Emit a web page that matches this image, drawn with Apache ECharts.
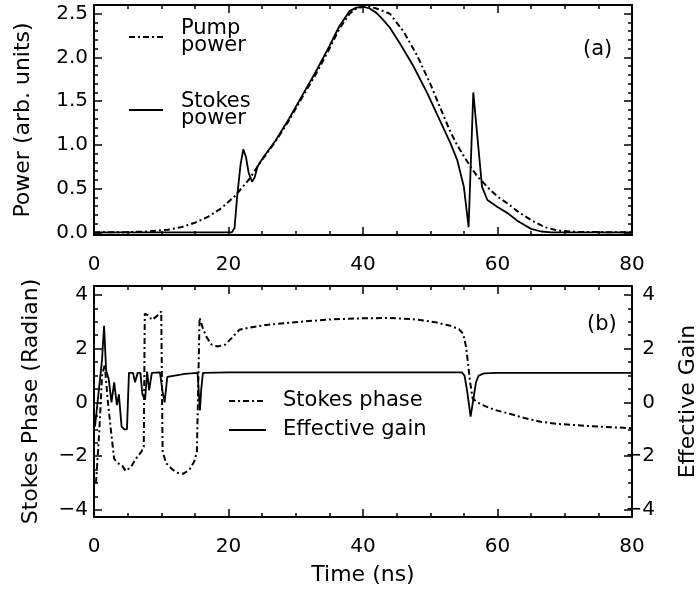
<!DOCTYPE html>
<html><head><meta charset="utf-8">
<script src="https://cdn.jsdelivr.net/npm/echarts@6/dist/echarts.min.js"></script>
<style>html,body{margin:0;padding:0;background:#fff}#c{width:699px;height:589px}</style>
</head><body><div id="c"></div>
<script>
// ---- tick labels ----
const timeTicks = [0, 20, 40, 60, 80];
const powerTicks = [0, 0.5, 1.0, 1.5, 2.0, 2.5];
const phaseTicks = [-4, -2, 0, 2, 4];
const gainTicks = [-4, -2, 0, 2, 4];

// ---- panel (a): pump power ----
const pumpT = [0, 5, 8, 11, 13, 15, 17, 19, 21, 23, 25, 27, 29, 31, 33, 35, 36.5, 38, 39, 40, 41, 42, 43, 44, 46, 48, 50, 52, 53, 54, 55, 56, 57, 58, 59, 60, 61.5, 63, 65, 67, 69, 72, 80];
const pumpP = [0, 0.003, 0.01, 0.03, 0.06, 0.11, 0.18, 0.28, 0.42, 0.6, 0.83, 1.04, 1.28, 1.55, 1.81, 2.1, 2.33, 2.5, 2.56, 2.58, 2.58, 2.56, 2.53, 2.5, 2.3, 2.03, 1.7, 1.33, 1.15, 1.0, 0.87, 0.75, 0.64, 0.56, 0.48, 0.41, 0.33, 0.24, 0.14, 0.06, 0.02, 0.005, 0];

// ---- panel (a): Stokes power ----
const stokesT = [0, 20.5, 20.9, 21.3, 21.8, 22.2, 22.6, 23.0, 23.5, 23.9, 24.3, 25, 27, 29, 31, 33, 35, 36.5, 38, 39, 40, 41, 42, 43, 44, 45.5, 47.5, 49.5, 51.5, 53, 54, 55, 55.7, 56.4, 57.7, 58.5, 60, 61.5, 63, 65, 66.5, 68, 80];
const stokesP = [0, 0, 0.05, 0.42, 0.78, 0.95, 0.86, 0.68, 0.58, 0.63, 0.75, 0.84, 1.05, 1.3, 1.57, 1.84, 2.13, 2.36, 2.53, 2.57, 2.58, 2.56, 2.51, 2.43, 2.34, 2.16, 1.9, 1.6, 1.27, 1.02, 0.83, 0.52, 0.06, 1.6, 0.52, 0.37, 0.29, 0.22, 0.13, 0.04, 0.01, 0, 0];

// ---- panel (b): Stokes phase ----
const phaseT = [0.3, 0.8, 1.2, 1.6, 2.0, 2.5, 3.0, 3.5, 4.2, 4.7, 5.5, 6.2, 7.0, 7.4, 7.55, 8.0, 8.6, 9.3, 10.0, 10.2, 10.7, 11.7, 12.5, 13.3, 14.2, 14.9, 15.3, 15.7, 16.2, 16.8, 17.5, 18.4, 19.5, 20.5, 21.6, 23, 25.6, 30.6, 35.5, 40, 44, 47, 49, 51, 53, 54.3, 54.9, 55.3, 55.6, 55.9, 56.3, 57, 58, 59.5, 61.5, 64, 66.4, 69, 71.4, 75, 79.4, 80];
const phaseV = [-3.0, -1.0, 1.0, 1.4, 0.2, -1.0, -2.1, -2.25, -2.35, -2.55, -2.4, -2.1, -1.85, -1.65, 3.3, 3.25, 3.07, 3.2, 3.38, -1.8, -2.25, -2.5, -2.62, -2.65, -2.5, -2.2, -1.85, 3.15, 2.75, 2.4, 2.15, 2.08, 2.15, 2.4, 2.7, 2.78, 2.88, 3.0, 3.09, 3.13, 3.14, 3.1, 3.05, 2.97, 2.85, 2.72, 2.55, 2.1, 1.5, 0.8, 0.15, 0.0, -0.12, -0.27, -0.4, -0.58, -0.72, -0.8, -0.84, -0.9, -0.95, -0.95];

// ---- panel (b): effective gain ----
const gainT = [0.15, 0.7, 1.2, 1.5, 1.8, 2.2, 2.6, 3.0, 3.4, 3.7, 4.1, 4.5, 4.9, 5.2, 5.8, 6.1, 6.5, 6.9, 7.2, 7.6, 7.9, 8.2, 8.6, 9.8, 10.2, 10.5, 10.9, 12, 13.5, 15.4, 15.6, 15.75, 15.95, 16.2, 20, 54.7, 55.1, 55.5, 56.0, 56.4, 56.8, 57.2, 58, 60, 80];
const gainV = [-0.9, 0.4, 1.6, 2.85, 1.2, 0.85, 0.0, 0.75, -0.1, 0.3, -0.9, -1.0, -1.0, 1.1, 1.1, 0.75, 1.1, 1.1, 0.3, 0.1, 1.15, 0.45, 1.1, 1.12, 0.4, 0.0, 0.95, 1.0, 1.06, 1.1, 0.3, -0.3, 0.5, 1.1, 1.12, 1.12, 1.0, 0.4, -0.53, 0.1, 0.75, 1.0, 1.08, 1.1, 1.1];

const FONT = 'DejaVu Sans';
const zip = (a, b) => a.map((t, i) => [t, b[i]]);

function minorValues(majors, parts) {
  const out = [];
  for (let i = 0; i < majors.length - 1; i++) {
    const step = (majors[i + 1] - majors[i]) / parts;
    for (let k = 1; k < parts; k++) out.push(+(majors[i] + k * step).toFixed(4));
  }
  return out;
}

const lineCol = '#000';
function xAxes(gi, withName) {
  const base = {
    type: 'value', gridIndex: gi, min: timeTicks[0], max: timeTicks[timeTicks.length - 1], interval: 20,
    axisLine: { show: true, onZero: false, lineStyle: { color: lineCol, width: 2 } },
    axisTick: { show: true, inside: true, length: 8, lineStyle: { color: lineCol, width: 1.5 } },
    minorTick: { show: true, splitNumber: 4, length: 4, lineStyle: { color: lineCol, width: 1.5 } },
    splitLine: { show: false }, minorSplitLine: { show: false }
  };
  const bottom = Object.assign({}, base, {
    position: 'bottom',
    axisLabel: { show: true, fontSize: 20, fontFamily: FONT, color: '#000', margin: 20 }
  });
  if (withName) {
    Object.assign(bottom, {
      name: 'Time (ns)', nameLocation: 'middle', nameGap: 47,
      nameTextStyle: { fontSize: 22, fontFamily: FONT, color: '#000' }
    });
  }
  const top = Object.assign({}, base, { position: 'top', axisLabel: { show: false } });
  return [bottom, top];
}

function yAxes(gi, pos, min, max, majors, minorParts, labelOpts, nameOpts) {
  const major = {
    type: 'value', gridIndex: gi, position: pos, min: min, max: max,
    axisLine: { show: true, onZero: false, lineStyle: { color: lineCol, width: 2 } },
    axisTick: { show: true, inside: true, length: 8, customValues: majors, lineStyle: { color: lineCol, width: 1.5 } },
    axisLabel: labelOpts ? Object.assign({ show: true, customValues: majors, fontSize: 20, fontFamily: FONT, color: '#000' }, labelOpts) : { show: false },
    splitLine: { show: false }
  };
  if (nameOpts) Object.assign(major, nameOpts);
  const minor = {
    type: 'value', gridIndex: gi, position: pos, min: min, max: max,
    axisLine: { show: false, onZero: false },
    axisTick: { show: true, inside: true, length: 4, customValues: minorValues(majors, minorParts), lineStyle: { color: lineCol, width: 1.5 } },
    axisLabel: { show: false }, splitLine: { show: false }
  };
  return [major, minor];
}

const minusFmt = v => (v < 0 ? '\u2212' + Math.abs(v) : String(v));
const nameStyle = { fontSize: 22, fontFamily: FONT, color: '#000' };

const yA = [].concat(
  yAxes(0, 'left', -0.03, 2.6, powerTicks, 5, { margin: 6, formatter: v => v.toFixed(1) },
    { name: 'Power (arb. units)', nameLocation: 'middle', nameGap: 60, nameTextStyle: nameStyle }),
  yAxes(0, 'right', -0.03, 2.6, powerTicks, 5, null, null),
  yAxes(1, 'left', -4.26, 4.33, phaseTicks, 4, { margin: 6, formatter: minusFmt },
    { name: 'Stokes Phase (Radian)', nameLocation: 'middle', nameGap: 52, nameTextStyle: nameStyle }),
  yAxes(1, 'right', -4.26, 4.33, gainTicks, 4, {
      margin: -7,
      formatter: v => '{r|' + minusFmt(v) + '}',
      rich: { r: { width: 30, align: 'right', fontSize: 20, fontFamily: FONT, color: '#000' } }
    },
    { name: 'Effective Gain', nameLocation: 'middle', nameGap: 45, nameTextStyle: nameStyle })
);
// yAxis indices: 0 top-left, 2 top-right, 4 bottom-left, 6 bottom-right

const xA = [].concat(xAxes(0, false), xAxes(1, true));
// xAxis indices: 0 top panel bottom, 2 bottom panel bottom

const dashDot = [6, 3, 2, 3];
const option = {
  animation: false,
  backgroundColor: '#fff',
  grid: [
    { left: 94, top: 5, width: 538, height: 230, containLabel: false, outerBoundsMode: 'none' },
    { left: 94, top: 286, width: 538, height: 231, containLabel: false, outerBoundsMode: 'none' }
  ],
  xAxis: xA,
  yAxis: yA,
  legend: [
    {
      data: ['Pump power', 'Stokes power'], orient: 'vertical', left: 128, top: 17, padding: 0,
      itemWidth: 34, itemHeight: 14, itemGap: 33, selectedMode: false,
      itemStyle: { opacity: 0 },
      formatter: n => n.replace(' ', '\n'),
      textStyle: { fontSize: 21, lineHeight: 17, fontFamily: FONT, color: '#000', padding: [0, 0, 6, 13] }
    },
    {
      data: ['Stokes phase', 'Effective gain'], orient: 'vertical', left: 228, top: 387, padding: 0,
      itemWidth: 37, itemHeight: 14, itemGap: 1, selectedMode: false,
      itemStyle: { opacity: 0 },
      textStyle: { fontSize: 21, lineHeight: 22, fontFamily: FONT, color: '#000', padding: [0, 0, 6, 12] }
    }
  ],
  graphic: [
    { type: 'text', left: 583, top: 39, style: { text: '(a)', font: '21px "DejaVu Sans"', fill: '#000' } },
    { type: 'text', left: 587, top: 314, style: { text: '(b)', font: '21px "DejaVu Sans"', fill: '#000' } }
  ],
  series: [
    { name: 'Pump power', type: 'line', xAxisIndex: 0, yAxisIndex: 0, data: zip(pumpT, pumpP), symbol: 'none',
      lineStyle: { color: '#000', width: 2, type: dashDot }, itemStyle: { color: '#000' } },
    { name: 'Stokes power', type: 'line', xAxisIndex: 0, yAxisIndex: 0, data: zip(stokesT, stokesP), symbol: 'none',
      lineStyle: { color: '#000', width: 1.8, type: 'solid' }, itemStyle: { color: '#000' } },
    { name: 'Stokes phase', type: 'line', xAxisIndex: 2, yAxisIndex: 4, data: zip(phaseT, phaseV), symbol: 'none',
      lineStyle: { color: '#000', width: 2, type: dashDot }, itemStyle: { color: '#000' } },
    { name: 'Effective gain', type: 'line', xAxisIndex: 2, yAxisIndex: 6, data: zip(gainT, gainV), symbol: 'none',
      lineStyle: { color: '#000', width: 1.8, type: 'solid' }, itemStyle: { color: '#000' } }
  ]
};
const chart = echarts.init(document.getElementById('c'), null, { renderer: 'canvas' });
chart.setOption(option);
</script></body></html>
